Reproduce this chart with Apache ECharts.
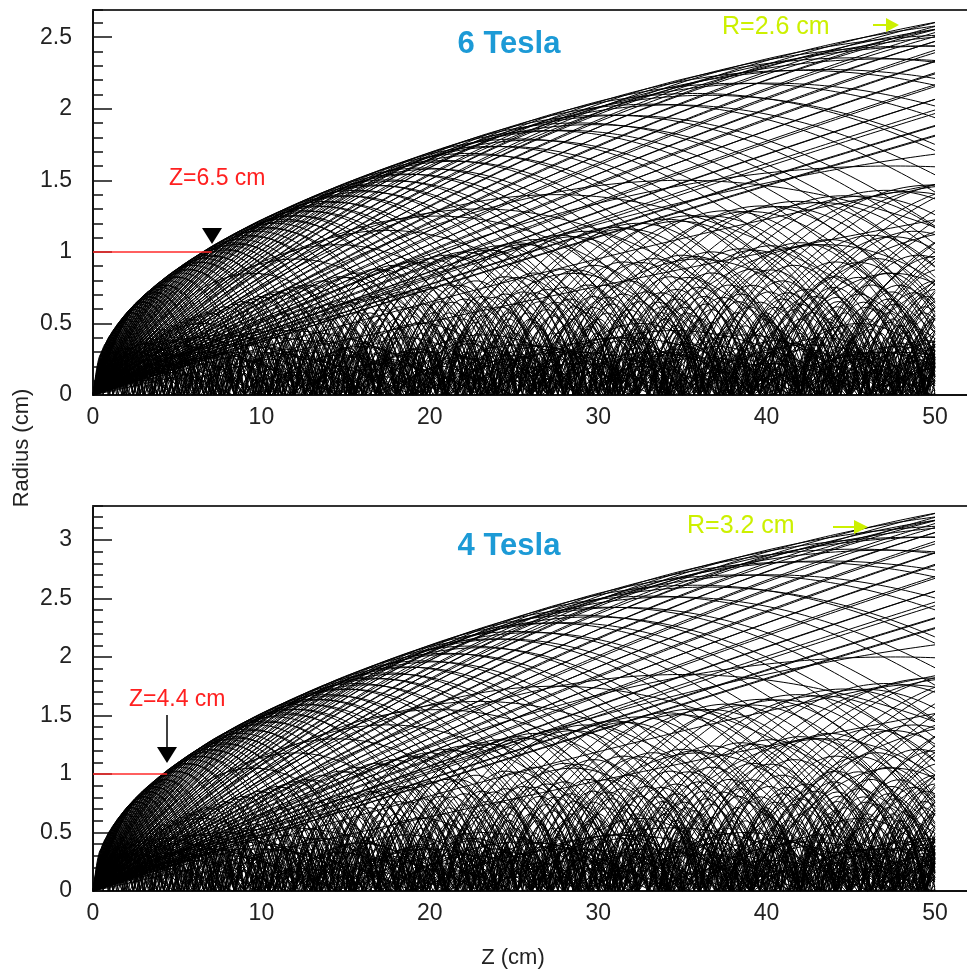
<!DOCTYPE html>
<html><head><meta charset="utf-8">
<script src="https://cdn.jsdelivr.net/npm/echarts@6/dist/echarts.min.js"></script>
<style>html,body{margin:0;padding:0;background:#fff}#c{width:967px;height:976px}</style>
</head><body><div id="c"></div>
<script>
// ---- data ----
const panelTitles = ['6 Tesla', '4 Tesla'];
const radiusMax = [2.69, 3.29];          // top of each radius axis (cm)
const zAxisMax = 51.9;                   // Z axis runs past the last label to the page edge
const zMax = 50;                         // tracks stop at Z = 50 cm
const markerZ = [7.05, 4.4];             // end of red r = 1 cm guide
const markerLabels = ['Z=6.5 cm', 'Z=4.4 cm'];
const edgeLabels = ['R=2.6 cm', 'R=3.2 cm'];

// 6 Tesla: tracks near the kinematic edge (period along Z in cm, max radius in cm)
const t6EdgePeriod = [1.0,1.4,1.7,2.1,2.4,2.8,3.1,3.5,3.8,4.2,4.5,4.9,5.2,5.6,5.9,6.3,6.6,7.0,7.3,7.7,
  8.0,8.4,9.1,9.8,10.5,11.2,11.9,12.6,13.3,14.0,14.7,15.4,16.1,16.8,17.5,18.5,19.5,20.6,21.6,22.7,
  23.7,25.1,26.5,27.9,29.7,31.4,33.2,34.9,37.0,39.1,41.9,44.7,47.5,50.6,54.1,57.6,61.1,66.3,71.5,76.8,
  83.8,90.7,97.7,104.7,115.2,125.6,139.6,153.6,167.5,185,202,223,244,272,300,335,370,401];
const t6EdgeRadius = [0.289,0.331,0.368,0.400,0.431,0.459,0.484,0.509,0.532,0.554,0.576,0.597,0.617,0.636,0.653,0.671,0.689,0.706,0.721,0.738,
  0.753,0.769,0.798,0.827,0.853,0.880,0.906,0.930,0.953,0.977,1.000,1.022,1.043,1.064,1.086,1.116,1.144,1.172,1.200,1.228,
  1.253,1.288,1.321,1.353,1.392,1.430,1.467,1.503,1.544,1.586,1.638,1.688,1.737,1.789,1.847,1.901,1.956,2.032,2.107,2.178,
  2.268,2.356,2.438,2.519,2.634,2.743,2.883,3.017,3.141,3.292,3.434,3.597,3.751,3.947,4.131,4.352,4.559,4.737];
const t6Edge2Period = [24.4,27.2,30.5,34,38,43,49,56,63,73,87,101,120,146,175,212,258,315,385];
const t6Edge2Radius = [1.251,1.317,1.390,1.462,1.541,1.633,1.736,1.849,1.954,2.094,2.274,2.440,2.645,2.900,3.159,3.456,3.790,4.164,4.574];
const t6Edge3Period = [1.2,1.9,2.6,3.3,4.0,4.7,5.4,6.1,6.8,7.5,8.7,10.1,11.5,13.0,14.3,15.7,17.1,19.0,21.1,23.2,
  26.0,28.8,32.3,36.0,40.5,46.0,52.3,59.3,68.9,80.3,94.2,110,132,160,193,233,286,352];
const t6Edge3Radius = [0.302,0.375,0.434,0.486,0.532,0.574,0.613,0.649,0.683,0.715,0.767,0.822,0.874,0.926,0.968,1.012,1.053,1.106,1.162,1.215,
  1.282,1.345,1.420,1.494,1.579,1.677,1.781,1.889,2.027,2.179,2.348,2.526,2.752,3.012,3.290,3.594,3.958,4.363];
// 6 Tesla: tracks inside the edge
const t6InnerPeriod = [13,19,24,29,35,41,46,55,70,95,130,190,280];
const t6InnerRadius = [0.5,0.85,0.95,1.05,1.15,1.25,1.3,1.4,1.5,1.6,1.8,2.0,2.3];
// 6 Tesla: soft, low-radius tracks
const t6SoftPeriod = [0.6,0.9,1.2,1.5,1.8,2.2,2.6,3.0,3.4,3.9,4.3,4.8,5.3,5.9,6.4,7.0,7.7,8.3,9.0,9.8,10.6,11.5,12.4,13.3,14.5,15.5,17,19,21,23];
const t6SoftRadius = [0.12,0.2,0.15,0.28,0.1,0.22,0.3,0.18,0.27,0.24,0.33,0.14,0.3,0.2,0.36,0.25,0.32,0.16,0.38,0.28,0.34,0.22,0.4,0.3,0.26,0.42,0.35,0.3,0.4,0.45];

// 4 Tesla
const t4EdgePeriod = [1.0,1.4,1.7,2.1,2.4,2.8,3.1,3.5,3.8,4.2,4.5,4.9,5.2,5.6,5.9,6.3,6.6,7.0,7.3,7.7,
  8.0,8.4,9.1,9.8,10.5,11.2,11.9,12.6,13.3,14.0,14.7,15.4,16.1,16.8,17.5,18.5,19.5,20.6,21.6,22.7,
  23.7,25.1,26.5,27.9,29.7,31.4,33.2,34.9,37.0,39.1,41.9,44.7,47.5,50.6,54.1,57.6,61.1,66.3,71.5,76.8,
  83.8,90.7,97.7,104.7,115.2,125.6,139.6,153.6,167.5,185,202,223,244,272,300,335,370,401];
const t4EdgeRadius = [0.358,0.410,0.456,0.496,0.534,0.569,0.600,0.631,0.660,0.687,0.714,0.740,0.765,0.789,0.810,0.832,0.854,0.875,0.894,0.915,
  0.934,0.954,0.990,1.025,1.058,1.091,1.123,1.153,1.182,1.211,1.240,1.267,1.293,1.319,1.347,1.384,1.419,1.453,1.488,1.523,
  1.554,1.597,1.638,1.678,1.726,1.773,1.819,1.864,1.915,1.967,2.031,2.093,2.154,2.218,2.290,2.357,2.425,2.520,2.613,2.701,
  2.812,2.921,3.023,3.124,3.266,3.401,3.575,3.741,3.895,4.082,4.258,4.460,4.651,4.894,5.122,5.396,5.653,5.874];
const t4Edge2Period = [24.4,27.2,30.5,34,38,43,49,56,63,73,87,101,120,146,175,212,258,315,385];
const t4Edge2Radius = [1.551,1.633,1.724,1.813,1.911,2.025,2.153,2.293,2.423,2.597,2.820,3.026,3.280,3.596,3.917,4.285,4.700,5.163,5.672];
const t4Edge3Period = [1.2,1.9,2.6,3.3,4.0,4.7,5.4,6.1,6.8,7.5,8.7,10.1,11.5,13.0,14.3,15.7,17.1,19.0,21.1,23.2,
  26.0,28.8,32.3,36.0,40.5,46.0,52.3,59.3,68.9,80.3,94.2,110,132,160,193,233,286,352];
const t4Edge3Radius = [0.374,0.465,0.538,0.603,0.660,0.712,0.760,0.805,0.847,0.887,0.951,1.019,1.084,1.148,1.200,1.255,1.306,1.371,1.441,1.507,
  1.590,1.668,1.761,1.853,1.958,2.079,2.208,2.342,2.513,2.702,2.912,3.132,3.412,3.735,4.080,4.457,4.908,5.410];
const t4InnerPeriod = [13,19,24,29,35,41,46,55,70,95,130,190,280];
const t4InnerRadius = [0.62,1.05,1.18,1.3,1.42,1.55,1.62,1.75,1.85,2.0,2.25,2.5,2.85];
const t4SoftPeriod = [0.6,0.9,1.2,1.5,1.8,2.2,2.6,3.0,3.4,3.9,4.3,4.8,5.3,5.9,6.4,7.0,7.7,8.3,9.0,9.8,10.6,11.5,12.4,13.3,14.5,15.5,17,19,21,23];
const t4SoftRadius = [0.14,0.24,0.18,0.33,0.12,0.26,0.36,0.22,0.32,0.29,0.4,0.17,0.36,0.24,0.43,0.3,0.38,0.19,0.45,0.33,0.41,0.26,0.48,0.36,0.31,0.5,0.42,0.36,0.48,0.54];

// ---- helix projection r(z) = Rmax |sin(pi z / period)| ----
function track(period, rmax) {
  const pts = [];
  const n = Math.max(24, Math.ceil(period / 0.3));
  for (let k = 0; k * period < zMax; k++) {
    for (let j = (k ? 1 : 0); j <= n; j++) {
      const z = k * period + j * period / n;
      if (z >= zMax) {
        pts.push([zMax, rmax * Math.abs(Math.sin(Math.PI * zMax / period))]);
        return pts;
      }
      pts.push([z, rmax * Math.abs(Math.sin(Math.PI * j / n))]);
    }
  }
  return pts;
}
function panelTracks(groups) {
  const out = [];
  groups.forEach(([per, rad]) => per.forEach((p, i) => out.push({ coords: track(p, rad[i]) })));
  return out;
}
const tracks = [
  panelTracks([[t6EdgePeriod, t6EdgeRadius], [t6Edge2Period, t6Edge2Radius], [t6Edge3Period, t6Edge3Radius],
               [t6InnerPeriod, t6InnerRadius], [t6SoftPeriod, t6SoftRadius]]),
  panelTracks([[t4EdgePeriod, t4EdgeRadius], [t4Edge2Period, t4Edge2Radius], [t4Edge3Period, t4Edge3Radius],
               [t4InnerPeriod, t4InnerRadius], [t4SoftPeriod, t4SoftRadius]])
];

const FONT = 'Liberation Sans, Arial, sans-serif';
const grids = [
  { left: 93, top: 10, width: 874, height: 385 },
  { left: 93, top: 506, width: 874, height: 385 }
].map(g => Object.assign(g, { show: false, containLabel: false }));

const xAxes = [0, 1].map(i => ({
  gridIndex: i, type: 'value', position: 'bottom', min: 0, max: zAxisMax, interval: 10,
  axisLine: { show: true, onZero: false, lineStyle: { color: '#111', width: 2 } },
  axisTick: { show: false }, splitLine: { show: false },
  axisLabel: { color: '#222', fontSize: 23, fontFamily: FONT, margin: 11, showMaxLabel: false }
}));
[0, 1].forEach(i => xAxes.push({
  gridIndex: i, type: 'value', position: 'top', min: 0, max: zAxisMax,
  axisLine: { show: true, onZero: false, lineStyle: { color: '#333', width: 2 } },
  axisTick: { show: false }, axisLabel: { show: false }, splitLine: { show: false }
}));
const yAxes = [];
[0, 1].forEach(i => {
  yAxes.push({
    gridIndex: i, type: 'value', position: 'left', min: 0, max: radiusMax[i], interval: 0.5,
    axisLine: { show: true, onZero: false, lineStyle: { color: '#111', width: 2 } },
    axisTick: { show: true, inside: true, length: 19, lineStyle: { color: '#111', width: 1.5 } },
    splitLine: { show: false },
    axisLabel: { color: '#222', fontSize: 23, fontFamily: FONT, margin: 21, showMaxLabel: false }
  });
  yAxes.push({
    gridIndex: i, type: 'value', position: 'left', offset: 0, min: 0, max: radiusMax[i], interval: 0.1,
    axisLine: { show: false, onZero: false }, splitLine: { show: false }, axisLabel: { show: false },
    axisTick: { show: true, inside: true, length: 10, lineStyle: { color: '#111', width: 1.5 } }
  });
});

const series = [];
[0, 1].forEach(i => {
  series.push({
    type: 'lines', coordinateSystem: 'cartesian2d', xAxisIndex: i, yAxisIndex: i * 2,
    polyline: true, silent: true, animation: false, clip: true,
    lineStyle: { color: '#000', width: 1, opacity: 1 },
    data: tracks[i], z: 2
  });
  series.push({
    type: 'line', xAxisIndex: i, yAxisIndex: i * 2, silent: true, animation: false,
    symbol: 'none', lineStyle: { color: '#ff2a2a', width: 1.5 },
    data: [[0, 1], [markerZ[i], 1]], z: 3
  });
});

const txt = (x, y, s, size, color, align, extra) => ({
  type: 'text', x, y, z: 10,
  style: Object.assign({ text: s, fill: color, font: (extra || '') + ' ' + size + 'px ' + FONT, textAlign: align || 'left', textVerticalAlign: 'middle' })
});
const graphic = [
  txt(509, 44, panelTitles[0], 31, '#1c9ad6', 'center', 'bold'),
  txt(509, 546, panelTitles[1], 31, '#1c9ad6', 'center', 'bold'),
  txt(169, 179, markerLabels[0], 23, '#ff2020'),
  txt(129, 700, markerLabels[1], 23, '#ff2020'),
  txt(722, 27, edgeLabels[0], 25, '#ccf000'),
  txt(687, 526, edgeLabels[1], 25, '#ccf000'),
  { type: 'line', z: 10, shape: { x1: 873, y1: 25, x2: 890, y2: 25 }, style: { stroke: '#ccf000', lineWidth: 2 } },
  { type: 'polygon', z: 10, shape: { points: [[886, 18], [899, 25], [886, 32]] }, style: { fill: '#ccf000' } },
  { type: 'line', z: 10, shape: { x1: 833, y1: 527, x2: 858, y2: 527 }, style: { stroke: '#ccf000', lineWidth: 2 } },
  { type: 'polygon', z: 10, shape: { points: [[854, 520], [868, 527], [854, 534]] }, style: { fill: '#ccf000' } },
  { type: 'polygon', z: 10, shape: { points: [[202, 228], [222, 228], [212, 244]] }, style: { fill: '#000' } },
  { type: 'line', z: 10, shape: { x1: 167, y1: 715, x2: 167, y2: 750 }, style: { stroke: '#000', lineWidth: 1.5 } },
  { type: 'polygon', z: 10, shape: { points: [[157, 747], [177, 747], [167, 763]] }, style: { fill: '#000' } },
  { type: 'text', z: 10, x: 22, y: 448, rotation: Math.PI / 2,
    style: { text: 'Radius (cm)', fill: '#222', font: '22px ' + FONT, textAlign: 'center', textVerticalAlign: 'middle' } },
  txt(513, 958, 'Z (cm)', 22, '#222', 'center')
];

const chart = echarts.init(document.getElementById('c'), null, { renderer: 'canvas' });
chart.setOption({ animation: false, backgroundColor: '#fff', grid: grids, xAxis: xAxes, yAxis: yAxes, series, graphic });
</script>
</body></html>
